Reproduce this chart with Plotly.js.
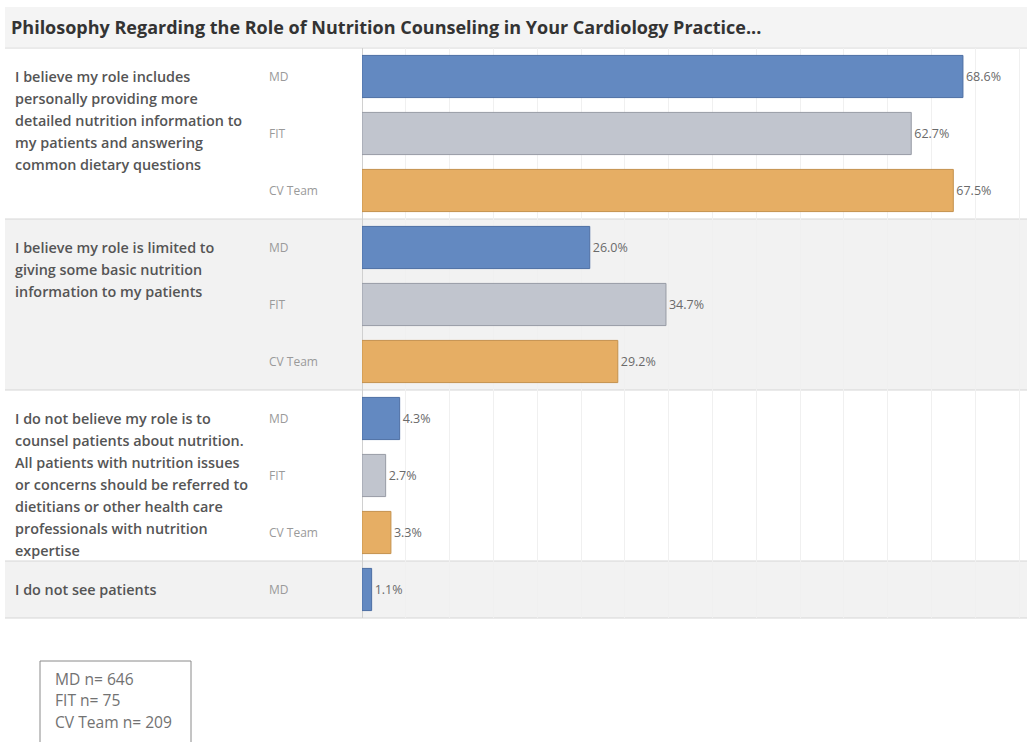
<!DOCTYPE html>
<html><head><meta charset="utf-8">
<script src="https://cdn.plot.ly/plotly-3.0.1.min.js"></script>
<style>html,body{margin:0;padding:0;background:#fff}#chart{width:1027px;height:742px}</style>
</head><body><div id="chart"></div>
<script>
// ---- data ----
const respondents = ["MD", "FIT", "CV Team"];
const philosophies = [
  "I believe my role includes<br>personally providing more<br>detailed nutrition information to<br>my patients and answering<br>common dietary questions",
  "I believe my role is limited to<br>giving some basic nutrition<br>information to my patients",
  "I do not believe my role is to<br>counsel patients about nutrition.<br>All patients with nutrition issues<br>or concerns should be referred to<br>dietitians or other health care<br>professionals with nutrition<br>expertise",
  "I do not see patients"
];
const mdPct = [68.6, 26.0, 4.3, 1.1];
const fitPct = [62.7, 34.7, 2.7, null];
const cvTeamPct = [67.5, 29.2, 3.3, null];
const sampleSizes = ["MD n= 646", "FIT n= 75", "CV Team n= 209"];
const chartTitle = "Philosophy Regarding the Role of Nutrition Counseling in Your Cardiology Practice...";

// ---- styling ----
const fillColors = ["#6389c1", "#c1c5ce", "#e6ae64"];
const lineColors = ["#4c6ea3", "#979ba5", "#c4914d"];
const W = 1027, H = 742, L = 362, T = 48, B = 124, R = 0;
const PW = W - L - R, PH = H - T - B;
const px = v => (v - L) / PW;
const py = v => 1 - (v - T) / PH;

const seriesValues = [mdPct, fitPct, cvTeamPct];
const rowKeys = [];
const groupStart = [], groupCount = [];
philosophies.forEach((p, g) => {
  groupStart.push(rowKeys.length);
  let c = 0;
  respondents.forEach((r, s) => {
    if (seriesValues[s][g] != null) { rowKeys.push(g + "|" + r); c++; }
  });
  groupCount.push(c);
});
const nRows = rowKeys.length;

const traces = respondents.map((r, s) => {
  const xs = [], ys = [];
  philosophies.forEach((p, g) => {
    const v = seriesValues[s][g];
    if (v != null) { xs.push(v); ys.push(g + "|" + r); }
  });
  return {
    type: "bar", orientation: "h", name: r, x: xs, y: ys,
    width: 0.74,
    marker: {color: fillColors[s], line: {color: lineColors[s], width: 1}},
    texttemplate: "%{x:.1f}%", textposition: "outside", cliponaxis: false,
    textfont: {family: "Open Sans", size: 12.5, color: "#6a6a6a"},
    hoverinfo: "skip", showlegend: false
  };
});

const shapes = [];
const annotations = [];
// title band
shapes.push({type: "rect", xref: "paper", yref: "paper", x0: px(5), x1: 1, y0: py(47), y1: py(7),
  fillcolor: "#f4f4f4", line: {width: 0}, layer: "below"});
// grey bands for alternate groups
philosophies.forEach((p, g) => {
  const y0 = 1 - groupStart[g] / nRows, y1 = 1 - (groupStart[g] + groupCount[g]) / nRows;
  if (g % 2 === 1) {
    shapes.push({type: "rect", xref: "paper", yref: "paper", x0: px(5), x1: 1, y0: y1, y1: y0,
      fillcolor: "#f2f2f2", line: {width: 0}, layer: "below"});
  }
  shapes.push({type: "line", xref: "paper", yref: "paper", x0: px(5), x1: 1, y0: y0, y1: y0,
    line: {color: "#d6d6d6", width: 1}, layer: "below"});
  // group label lines
  p.split("<br>").forEach((line, i) => {
    annotations.push({xref: "paper", yref: "y", x: px(13), y: rowKeys[groupStart[g]], yshift: -22 * i,
      xanchor: "left", yanchor: "middle", showarrow: false, text: line,
      font: {family: "Open Sans", size: 14.4, color: "#555", weight: 600}});
  });
});
shapes.push({type: "line", xref: "paper", yref: "paper", x0: px(5), x1: 1, y0: 0, y1: 0,
  line: {color: "#d6d6d6", width: 1}, layer: "below"});
// sub labels
rowKeys.forEach(k => {
  annotations.push({xref: "paper", yref: "y", x: px(267), y: k, xanchor: "left", yanchor: "middle",
    showarrow: false, text: k.split("|")[1], font: {family: "Open Sans", size: 12, color: "#9a9a9a"}});
});
// sample size box
shapes.push({type: "rect", xref: "paper", yref: "paper", x0: px(40), x1: px(191), y0: py(760), y1: py(661),
  fillcolor: "rgba(0,0,0,0)", line: {color: "#8a8a8a", width: 1}});
sampleSizes.forEach((t, i) => {
  annotations.push({xref: "paper", yref: "paper", x: px(53), y: py(679 + 21.5 * i), xanchor: "left", yanchor: "middle",
    showarrow: false, text: t, font: {family: "Open Sans", size: 15.6, color: "#727272"}});
});

const layout = {
  width: W, height: H,
  margin: {l: L, r: R, t: T, b: B, pad: 0},
  paper_bgcolor: "#ffffff", plot_bgcolor: "rgba(0,0,0,0)",
  barmode: "overlay",
  title: {text: chartTitle, xref: "container", yref: "container", x: 11 / W, xanchor: "left",
    y: 1 - 28 / H, yanchor: "middle", font: {family: "Open Sans", size: 18, color: "#333", weight: 700}},
  xaxis: {range: [0, PW / 8.76], dtick: 5, showgrid: true, gridcolor: "#f0f0f0", gridwidth: 1,
    showticklabels: false, ticks: "", zeroline: true, zerolinecolor: "#d0d0d0", zerolinewidth: 1,
    showline: false, fixedrange: true},
  yaxis: {type: "category", categoryorder: "array", categoryarray: rowKeys, autorange: "reversed",
    range: [nRows - 0.5, -0.5], showticklabels: false, ticks: "", showgrid: false, zeroline: false, fixedrange: true},
  shapes: shapes, annotations: annotations,
  showlegend: false
};
Plotly.newPlot("chart", traces, layout, {displayModeBar: false, staticPlot: true});
</script></body></html>
